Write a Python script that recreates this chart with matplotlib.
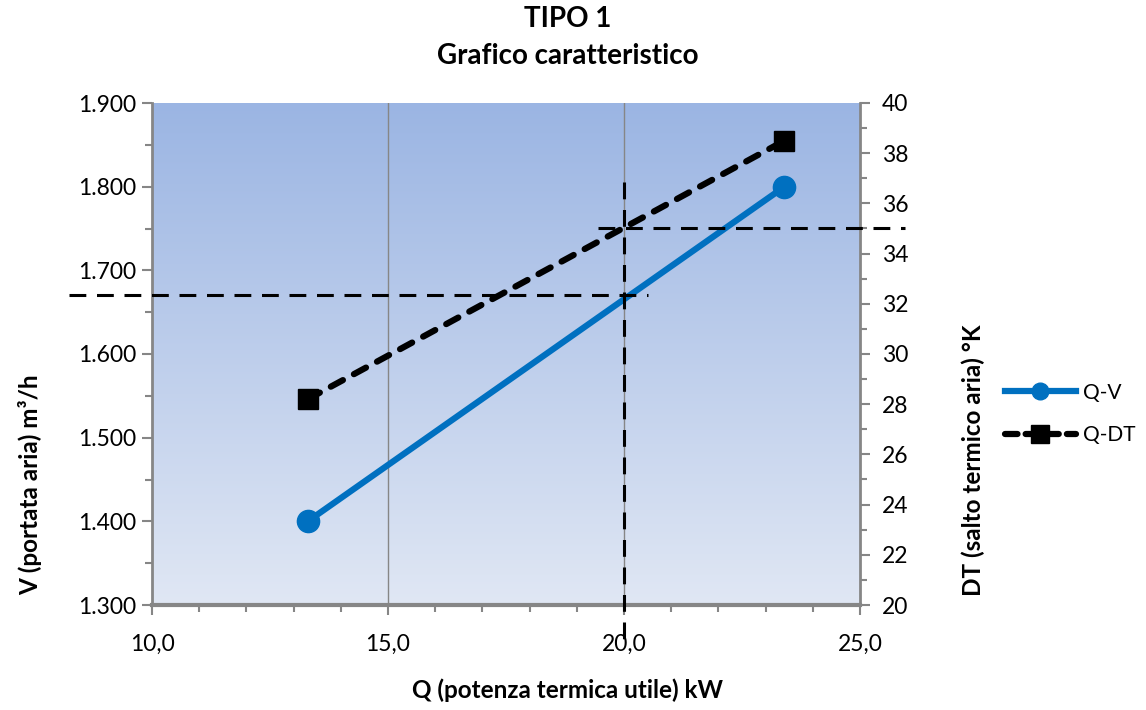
import matplotlib
matplotlib.use("Agg")
import matplotlib.pyplot as plt
from matplotlib.colors import LinearSegmentedColormap
from matplotlib.lines import Line2D
from matplotlib.ticker import FuncFormatter, MultipleLocator
import numpy as np

# dati
q_kw = [13.3, 23.4]        # Q (potenza termica utile) kW
v_m3h = [1400, 1800]       # V (portata aria) m3/h
dt_k = [28.2, 38.5]        # DT (salto termico aria) K

# linee di lettura a Q = 20 kW
q_read = 20.0
v_read = 1670
dt_read = 35.0
v_line_q = [8.25, 20.5]       # estensione orizzontale V
q_line_v = [1805, 1252]       # estensione verticale Q
dt_line_q = [19.45, 25.95]    # estensione orizzontale DT

x_ticks = [10, 15, 20, 25]
v_ticks = [1300, 1400, 1500, 1600, 1700, 1800, 1900]
dt_ticks = [20, 22, 24, 26, 28, 30, 32, 34, 36, 38, 40]

plt.rcParams['font.family'] = ['Lato', 'DejaVu Sans']
gray = '#868686'
blue = '#0070C0'

fig = plt.figure(figsize=(11.46, 7.10), dpi=100)
ax = fig.add_axes([152/1146, 105/710, 708/1146, 502/710])
ax2 = ax.twinx()

# sfondo sfumato
cmap = LinearSegmentedColormap.from_list('bg', ['#E0E7F4', '#9BB5E3'])
grad = np.linspace(0, 1, 256).reshape(-1, 1)
ax.imshow(grad, cmap=cmap, origin='lower', aspect='auto', extent=[0, 1, 0, 1],
          transform=ax.transAxes, zorder=0)

ax.set_xlim(10, 25)
ax.set_ylim(1300, 1900)
ax2.set_ylim(20, 40)

for xv in x_ticks[1:-1]:
    ax.axvline(xv, color=gray, lw=1, zorder=1)

ax.plot(q_kw, v_m3h, color=blue, lw=4.5, marker='o', ms=16, zorder=3)
ax2.plot(q_kw, dt_k, color='black', lw=4.5, ls=(0, (2.2, 2.0)), dash_capstyle='round',
         marker='s', ms=15, zorder=3)

# linee di lettura
ax.plot(v_line_q, [v_read, v_read], color='black', lw=2.2, ls=(0, (5.5, 3.5)),
        clip_on=False, zorder=4)
ax.plot([q_read, q_read], q_line_v, color='black', lw=2.2, ls=(0, (5.5, 3.5)),
        clip_on=False, zorder=4)
ax2.plot(dt_line_q, [dt_read, dt_read], color='black', lw=2.2, ls=(0, (5.5, 3.5)),
         clip_on=False, zorder=4)

ax.set_xticks(x_ticks)
ax.xaxis.set_minor_locator(MultipleLocator(1))
ax.set_yticks(v_ticks)
ax.yaxis.set_minor_locator(MultipleLocator(50))
ax2.set_yticks(dt_ticks)
ax2.yaxis.set_minor_locator(MultipleLocator(1))

ax.xaxis.set_major_formatter(FuncFormatter(lambda v, p: f"{v:.1f}".replace('.', ',')))
ax.yaxis.set_major_formatter(FuncFormatter(lambda v, p: f"{int(v):,}".replace(',', '.')))

for a in (ax, ax2):
    a.tick_params(which='both', direction='out', color=gray, width=1.5, labelsize=16.5,
                  labelcolor='black')
    a.tick_params(which='major', length=7)
    a.tick_params(which='minor', length=5)
    a.spines['top'].set_visible(False)
ax.tick_params(axis='y', pad=4)
ax.tick_params(axis='x', pad=14)
ax2.tick_params(axis='y', pad=9)
ax.spines['right'].set_visible(False)
ax.spines['left'].set_color(gray)
ax.spines['left'].set_linewidth(2)
ax.spines['bottom'].set_color(gray)
ax.spines['bottom'].set_linewidth(3)
ax2.spines['left'].set_visible(False)
ax2.spines['bottom'].set_visible(False)
ax2.spines['right'].set_color(gray)
ax2.spines['right'].set_linewidth(2)

fig.text(0.495, 1 - 19/710, "TIPO 1", ha='center', va='center', fontsize=20,
         fontweight='bold')
fig.text(0.495, 1 - 56/710, "Grafico caratteristico", ha='center', va='center',
         fontsize=20, fontweight='bold')
fig.text(0.495, 1 - 690/710, "Q (potenza termica utile) kW", ha='center', va='center',
         fontsize=17.5, fontweight='bold')
fig.text(30/1146, (710-485)/710, "V (portata aria) m\u00b3/h", ha='center', va='center',
         rotation=90, fontsize=17.5, fontweight='bold')
fig.text(973/1146, (710-460)/710, "DT (salto termico aria) \u00b0K", ha='center',
         va='center', rotation=90, fontsize=17.5, fontweight='bold')

handles = [
    Line2D([], [], color=blue, lw=4.5, marker='o', ms=12),
    Line2D([], [], color='black', lw=4.5, ls=(0, (2.0, 1.3)), dash_capstyle='round',
           marker='s', ms=13),
]
fig.legend(handles, ['Q-V', 'Q-DT'], loc='center left',
           bbox_to_anchor=(1005/1146, (710-414)/710), frameon=False, fontsize=15,
           handlelength=3.4, labelspacing=1.1, handletextpad=0.35,
           borderaxespad=0, borderpad=0)

fig.savefig("out.png", dpi=100)
